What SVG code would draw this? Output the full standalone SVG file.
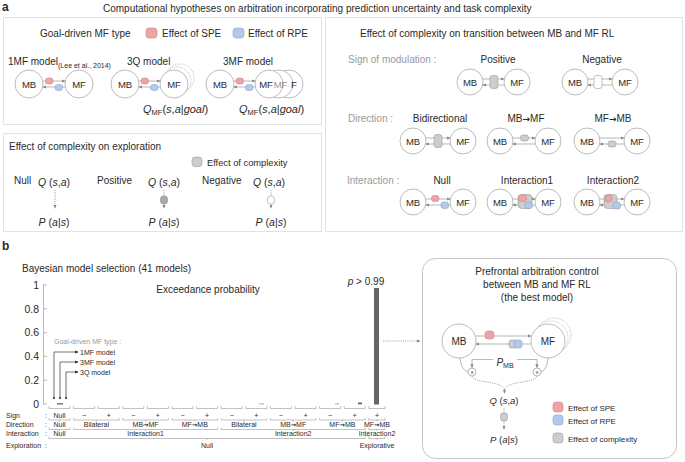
<svg xmlns="http://www.w3.org/2000/svg" width="685" height="462" viewBox="0 0 685 462">
<defs>
<style>
text{font-family:"Liberation Sans",Arial,sans-serif;fill:#2a2a2a}
.t{font-size:10px}
.g{fill:#9a9a9a}
.s7{font-size:7px}
.i{font-style:italic}
.ar2{font-family:"DejaVu Sans",sans-serif;font-weight:bold}
.c{fill:#fff;stroke:#aaa;stroke-width:0.8}
.cd{fill:none;stroke:#b5b5b5;stroke-width:0.7;stroke-dasharray:1.5 1}
.ar{stroke:#999;stroke-width:0.7;fill:none;marker-end:url(#ah)}
.ad{stroke:#888;stroke-width:0.7;fill:none;stroke-dasharray:1.2 1;marker-end:url(#ah)}
.ak{stroke:#333;stroke-width:0.7;fill:none;marker-end:url(#ak)}
.spe{fill:#eca4a7;stroke:#d08589;stroke-width:0.6}
.rpe{fill:#b4c8ea;stroke:#8ea6ce;stroke-width:0.6}
.cx{fill:#cdcdcd;stroke:#999;stroke-width:0.6}
.cw{fill:#fff;stroke:#999;stroke-width:0.6}
.pn{fill:none;stroke:#e2e2e2;stroke-width:1}
.br{fill:none;stroke:#999;stroke-width:0.6}
.n{font-size:9.5px;text-anchor:middle}
.m{text-anchor:middle}
</style>
<marker id="ah" viewBox="0 0 6 6" refX="5" refY="3" markerWidth="4" markerHeight="4" orient="auto" markerUnits="userSpaceOnUse"><path d="M0,0.5 L6,3 L0,5.5z" fill="#888"/></marker>
<marker id="ak" viewBox="0 0 6 6" refX="5" refY="3" markerWidth="4" markerHeight="4" orient="auto" markerUnits="userSpaceOnUse"><path d="M0,0.5 L6,3 L0,5.5z" fill="#333"/></marker>
</defs>
<rect width="685" height="462" fill="#fff"/>

<!-- headings -->
<text x="2" y="11" font-size="12" font-weight="bold">a</text>
<text x="103" y="12" class="t">Computational hypotheses on arbitration incorporating prediction uncertainty and task complexity</text>

<!-- panels -->
<rect class="pn" x="3.5" y="17.5" width="318" height="107"/>
<rect class="pn" x="3.5" y="133.5" width="318" height="98"/>
<rect class="pn" x="325.5" y="17.5" width="357" height="214"/>

<!-- panel a1 -->
<g id="legend-a1">
<text x="40" y="37" class="t">Goal-driven MF type</text>
<rect class="spe" x="146" y="28" width="11" height="10" rx="3"/>
<text x="162" y="37" class="t">Effect of SPE</text>
<rect class="rpe" x="233" y="28" width="11" height="10" rx="3"/>
<text x="248" y="37" class="t">Effect of RPE</text>
</g>

<g id="model-1MF">
<text x="8" y="65" class="t">1MF model<tspan font-size="7" dy="2.5">(Lee et al., 2014)</tspan></text>
<circle class="c" cx="29" cy="84" r="14"/><text class="n" x="29" y="87.5">MB</text>
<circle class="c" cx="79" cy="84" r="14"/><text class="n" x="79" y="87.5">MF</text>
<line class="ar" x1="43" y1="81" x2="65" y2="81"/>
<line class="ar" x1="65" y1="87" x2="43" y2="87"/>
<rect class="spe" x="45.5" y="78" width="7.5" height="6" rx="2.5"/>
<rect class="rpe" x="55" y="84.5" width="7.5" height="6" rx="2.5"/>
</g>

<g id="model-3Q">
<text x="127" y="65" class="t">3Q model</text>
<circle class="cd" cx="180" cy="78" r="14"/>
<circle class="cd" cx="177" cy="81" r="14"/>
<circle class="c" cx="125" cy="84" r="14"/><text class="n" x="125" y="87.5">MB</text>
<circle class="c" cx="174" cy="84" r="14"/><text class="n" x="174" y="87.5">MF</text>
<line class="ar" x1="139" y1="81" x2="160" y2="81"/>
<line class="ar" x1="160" y1="87" x2="139" y2="87"/>
<rect class="spe" x="141" y="78" width="7.5" height="6" rx="2.5"/>
<rect class="rpe" x="150.5" y="84.5" width="7.5" height="6" rx="2.5"/>
<text x="143" y="113" font-size="11"><tspan class="i">Q</tspan><tspan font-size="7.5" dy="2">MF</tspan><tspan dy="-2">(</tspan><tspan class="i">s</tspan>,<tspan class="i">a</tspan>|<tspan class="i">goal</tspan>)</text>
</g>

<g id="model-3MF">
<text x="223" y="65" class="t">3MF model</text>
<circle class="c" cx="220" cy="84" r="14"/><text class="n" x="220" y="87.5">MB</text>
<circle class="c" cx="289" cy="84" r="14"/>
<circle class="c" cx="279" cy="84" r="14"/>
<circle class="c" cx="269" cy="84" r="14"/>
<text class="n" x="266" y="87.5">MF</text>
<text class="n" x="280.5" y="87.5" fill-opacity="0.55">MF</text>
<text class="n" x="294" y="87.5">F</text>
<line class="ar" x1="234" y1="81" x2="255" y2="81"/>
<line class="ar" x1="255" y1="87" x2="234" y2="87"/>
<rect class="spe" x="236" y="78" width="7.5" height="6" rx="2.5"/>
<rect class="rpe" x="245.5" y="84.5" width="7.5" height="6" rx="2.5"/>
<text x="239" y="113" font-size="11"><tspan class="i">Q</tspan><tspan font-size="7.5" dy="2">MF</tspan><tspan dy="-2">(</tspan><tspan class="i">s</tspan>,<tspan class="i">a</tspan>|<tspan class="i">goal</tspan>)</text>
</g>

<!-- panel a2 -->
<g id="exploration">
<text x="9" y="150" class="t">Effect of complexity on exploration</text>
<rect class="cx" x="192" y="157" width="10" height="9.5" rx="3" fill="#ddd"/>
<text x="207" y="166" font-size="9.3">Effect of complexity</text>
<text x="14" y="184" class="t">Null</text>
<text x="54" y="186" font-size="10.5" class="m"><tspan class="i">Q</tspan> (<tspan class="i">s</tspan>,<tspan class="i">a</tspan>)</text>
<line class="ad" x1="55" y1="190" x2="55" y2="208"/>
<text x="54" y="226" font-size="10.5" class="m"><tspan class="i">P</tspan> (<tspan class="i">a</tspan>|<tspan class="i">s</tspan>)</text>
<text x="97" y="184" class="t">Positive</text>
<text x="164" y="186" font-size="10.5" class="m"><tspan class="i">Q</tspan> (<tspan class="i">s</tspan>,<tspan class="i">a</tspan>)</text>
<line class="ad" x1="164" y1="190" x2="164" y2="208"/>
<rect x="160.5" y="196" width="7" height="8" rx="3" fill="#aaa" stroke="#888" stroke-width="0.6"/>
<text x="164" y="226" font-size="10.5" class="m"><tspan class="i">P</tspan> (<tspan class="i">a</tspan>|<tspan class="i">s</tspan>)</text>
<text x="202" y="184" class="t">Negative</text>
<text x="269" y="186" font-size="10.5" class="m"><tspan class="i">Q</tspan> (<tspan class="i">s</tspan>,<tspan class="i">a</tspan>)</text>
<line class="ad" x1="271" y1="190" x2="271" y2="208"/>
<rect class="cw" x="267.5" y="196" width="7" height="8" rx="3"/>
<text x="271" y="226" font-size="10.5" class="m"><tspan class="i">P</tspan> (<tspan class="i">a</tspan>|<tspan class="i">s</tspan>)</text>
</g>

<!-- panel a3 -->
<g id="transition">
<text x="360" y="37" class="t">Effect of complexity on transition between MB and MF RL</text>
<text x="348" y="63" class="t g">Sign of modulation :</text>
<text x="348" y="122" class="t g">Direction :</text>
<text x="347" y="184" class="t g">Interaction :</text>
<text x="498" y="63" class="t m">Positive</text>
<text x="602" y="63" class="t m">Negative</text>
<text x="440" y="122" class="t m">Bidirectional</text>
<text x="526" y="122" class="t m">MB<tspan class="ar2" font-size="9">→</tspan>MF</text>
<text x="613" y="122" class="t m">MF<tspan class="ar2" font-size="9">→</tspan>MB</text>
<text x="442" y="184" class="t m">Null</text>
<text x="527" y="184" class="t m">Interaction1</text>
<text x="613" y="184" class="t m">Interaction2</text>
</g>

<g id="sign-positive">
<circle class="c" cx="470" cy="82" r="13"/><text class="n" x="470" y="85.5">MB</text>
<circle class="c" cx="517" cy="82" r="13"/><text class="n" x="517" y="85.5">MF</text>
<line class="ar" x1="483" y1="79" x2="504" y2="79"/>
<line class="ar" x1="504" y1="85" x2="483" y2="85"/>
<rect class="cx" x="490" y="75.5" width="8" height="13" rx="2.5"/>
</g>
<g id="sign-negative">
<circle class="c" cx="575" cy="82" r="13"/><text class="n" x="575" y="85.5">MB</text>
<circle class="c" cx="625" cy="82" r="13"/><text class="n" x="625" y="85.5">MF</text>
<line class="ar" x1="588" y1="79" x2="612" y2="79"/>
<line class="ar" x1="612" y1="85" x2="588" y2="85"/>
<rect class="cw" x="594" y="75.5" width="8" height="13" rx="2.5"/>
</g>
<g id="dir-bidirectional">
<circle class="c" cx="413" cy="141" r="13"/><text class="n" x="413" y="144.5">MB</text>
<circle class="c" cx="463" cy="141" r="13"/><text class="n" x="463" y="144.5">MF</text>
<line class="ar" x1="426" y1="138" x2="450" y2="138"/>
<line class="ar" x1="450" y1="144" x2="426" y2="144"/>
<rect class="cx" x="434" y="134.5" width="8" height="13" rx="2.5"/>
</g>
<g id="dir-mb-mf">
<circle class="c" cx="500" cy="141" r="13"/><text class="n" x="500" y="144.5">MB</text>
<circle class="c" cx="548" cy="141" r="13"/><text class="n" x="548" y="144.5">MF</text>
<line class="ar" x1="513" y1="138" x2="535" y2="138"/>
<line class="ar" x1="535" y1="144" x2="513" y2="144"/>
<rect class="cx" x="520.5" y="135" width="8" height="6" rx="2.5"/>
</g>
<g id="dir-mf-mb">
<circle class="c" cx="587" cy="141" r="13"/><text class="n" x="587" y="144.5">MB</text>
<circle class="c" cx="637" cy="141" r="13"/><text class="n" x="637" y="144.5">MF</text>
<line class="ar" x1="600" y1="138" x2="624" y2="138"/>
<line class="ar" x1="624" y1="144" x2="600" y2="144"/>
<rect class="cx" x="608" y="141" width="8" height="6" rx="2.5"/>
</g>
<g id="int-null">
<circle class="c" cx="413" cy="202" r="13"/><text class="n" x="413" y="205.5">MB</text>
<circle class="c" cx="463" cy="202" r="13"/><text class="n" x="463" y="205.5">MF</text>
<line class="ar" x1="426" y1="199" x2="450" y2="199"/>
<line class="ar" x1="450" y1="205" x2="426" y2="205"/>
<rect class="spe" x="431.5" y="195.5" width="7.5" height="6" rx="2.5"/>
<rect class="rpe" x="441" y="202" width="7.5" height="6.5" rx="2.5"/>
</g>
<g id="int-1">
<circle class="c" cx="500" cy="202" r="13"/><text class="n" x="500" y="205.5">MB</text>
<circle class="c" cx="548" cy="202" r="13"/><text class="n" x="548" y="205.5">MF</text>
<line class="ar" x1="513" y1="199" x2="535" y2="199"/>
<line class="ar" x1="535" y1="205" x2="513" y2="205"/>
<rect class="cx" x="518" y="194.5" width="14" height="14" rx="3.5"/>
<rect class="spe" x="518.5" y="195" width="8" height="6.5" rx="2.5"/>
<rect class="rpe" x="525" y="202" width="7.5" height="6.5" rx="2.5"/>
</g>
<g id="int-2">
<circle class="c" cx="587" cy="202" r="13"/><text class="n" x="587" y="205.5">MB</text>
<circle class="c" cx="637" cy="202" r="13"/><text class="n" x="637" y="205.5">MF</text>
<line class="ar" x1="600" y1="199" x2="624" y2="199"/>
<line class="ar" x1="624" y1="205" x2="600" y2="205"/>
<rect class="cx" x="604" y="194.5" width="13" height="14" rx="3.5"/>
<rect class="spe" x="605" y="195" width="7" height="7" rx="2.5"/>
<rect class="rpe" x="613" y="202" width="7.5" height="7" rx="2.5"/>
</g>

<!-- panel b -->
<text x="2" y="250" font-size="12" font-weight="bold">b</text>
<text x="22" y="272" class="t">Bayesian model selection (41 models)</text>

<g id="chart">
<line x1="43.5" y1="284" x2="43.5" y2="404.5" stroke="#aaa" stroke-width="0.8"/>
<g stroke="#aaa" stroke-width="0.8">
<line x1="43.5" y1="285" x2="47" y2="285"/>
<line x1="43.5" y1="308.8" x2="47" y2="308.8"/>
<line x1="43.5" y1="332.6" x2="47" y2="332.6"/>
<line x1="43.5" y1="356.4" x2="47" y2="356.4"/>
<line x1="43.5" y1="380.2" x2="47" y2="380.2"/>
<line x1="43.5" y1="404" x2="47" y2="404"/>
</g>
<g font-size="10.5" text-anchor="end">
<text x="39" y="288.8">1</text>
<text x="39" y="312.6">0.8</text>
<text x="39" y="336.4">0.6</text>
<text x="39" y="360.2">0.4</text>
<text x="39" y="384">0.2</text>
<text x="39" y="407.8">0</text>
</g>
<text x="208" y="293" class="t m">Exceedance probability</text>
<text x="54" y="344" class="s7 g">Goal-driven MF type :</text>
<path class="ak" d="M54,398 V352 H78"/>
<path class="ak" d="M60,398 V362 H78"/>
<path class="ak" d="M66,398 V372 H78"/>
<circle cx="54" cy="398" r="1.1" fill="#333"/>
<circle cx="60" cy="398" r="1.1" fill="#333"/>
<circle cx="66" cy="398" r="1.1" fill="#333"/>
<text x="80" y="354.5" class="s7">1MF model</text>
<text x="80" y="364.5" class="s7">3MF model</text>
<text x="80" y="374.5" class="s7">3Q model</text>
<g fill="#666">
<rect x="57" y="403.2" width="6" height="1.3"/>
<rect x="259" y="403.5" width="5" height="0.8" fill="#999"/>
<rect x="335" y="403.5" width="4" height="0.8" fill="#999"/>
<rect x="358" y="402.5" width="4" height="1.8"/>
<rect x="374" y="288" width="5" height="116.5"/>
</g>
<text x="366" y="285" font-size="10" class="m"><tspan class="i">p</tspan> &gt; 0.99</text>
</g>

<g id="table">
<g class="br">
<path d="M49,406 V408.5 H70 V406"/>
<path d="M73.6,406 V408.5 H94.6 V406"/>
<path d="M98.2,406 V408.5 H119.2 V406"/>
<path d="M122.8,406 V408.5 H143.8 V406"/>
<path d="M147.4,406 V408.5 H168.4 V406"/>
<path d="M172,406 V408.5 H193 V406"/>
<path d="M196.6,406 V408.5 H217.6 V406"/>
<path d="M221.2,406 V408.5 H242.2 V406"/>
<path d="M245.8,406 V408.5 H266.8 V406"/>
<path d="M270.4,406 V408.5 H291.4 V406"/>
<path d="M295,406 V408.5 H316 V406"/>
<path d="M319.6,406 V408.5 H340.6 V406"/>
<path d="M344.2,406 V408.5 H365.2 V406"/>
<path d="M368.8,406 V408.5 H385 V406"/>

<path d="M49,418 V420 H70 V418 M59.5,420 V421.5"/>
<path d="M73.6,418 V420 H119.2 V418 M96.4,420 V421.5"/>
<path d="M122.8,418 V420 H168.4 V418 M145.6,420 V421.5"/>
<path d="M172,418 V420 H217.6 V418 M194.8,420 V421.5"/>
<path d="M221.2,418 V420 H266.8 V418 M244,420 V421.5"/>
<path d="M270.4,418 V420 H316 V418 M293.2,420 V421.5"/>
<path d="M319.6,418 V420 H365.2 V418 M342.4,420 V421.5"/>
<path d="M368.8,418 V420 H385 V418 M377,420 V421.5"/>

<path d="M49,427.5 V429.5 H70 V427.5 M59.5,429.5 V431"/>
<path d="M73.6,427.5 V429.5 H217.6 V427.5 M145.6,429.5 V431"/>
<path d="M221.2,427.5 V429.5 H365.2 V427.5 M293.2,429.5 V431"/>
<path d="M368.8,427.5 V429.5 H385 V427.5 M377,429.5 V431"/>

<path d="M49,436.5 V438.5 H365.2 V436.5 M207,438.5 V440"/>
<path d="M368.8,436.5 V438.5 H385 V436.5 M377,438.5 V440"/>
</g>
<g class="s7 g">
<text x="6" y="417.5">Sign</text><text x="45" y="417.5">:</text>
<text x="6" y="426.5">Direction</text><text x="45" y="426.5">:</text>
<text x="6" y="435.5">Interaction</text><text x="45" y="435.5">:</text>
<text x="6" y="447.5">Exploration</text><text x="45" y="447.5">:</text>
</g>
<g class="s7 m">
<text x="59.5" y="417.5">Null</text>
<text x="84.1" y="417.5">−</text><text x="108.7" y="417.5">+</text>
<text x="133.3" y="417.5">−</text><text x="157.9" y="417.5">+</text>
<text x="182.5" y="417.5">−</text><text x="207.1" y="417.5">+</text>
<text x="231.7" y="417.5">−</text><text x="256.3" y="417.5">+</text>
<text x="280.9" y="417.5">−</text><text x="305.5" y="417.5">+</text>
<text x="330.1" y="417.5">−</text><text x="354.7" y="417.5">+</text>
<text x="377" y="417.5">+</text>
<text x="59.5" y="426.5">Null</text>
<text x="96.4" y="426.5">Bilateral</text>
<text x="145.6" y="426.5">MB<tspan class="ar2" font-size="6.5">→</tspan>MF</text>
<text x="194.8" y="426.5">MF<tspan class="ar2" font-size="6.5">→</tspan>MB</text>
<text x="244" y="426.5">Bilateral</text>
<text x="293.2" y="426.5">MB<tspan class="ar2" font-size="6.5">→</tspan>MF</text>
<text x="342.4" y="426.5">MF<tspan class="ar2" font-size="6.5">→</tspan>MB</text>
<text x="377" y="426.5">MF<tspan class="ar2" font-size="6.5">→</tspan>MB</text>
<text x="59.5" y="435.5">Null</text>
<text x="145.6" y="435.5">Interaction1</text>
<text x="293.2" y="435.5">Interaction2</text>
<text x="377" y="435.5">Interaction2</text>
<text x="207" y="447.5">Null</text>
<text x="377" y="447.5">Explorative</text>
</g>
</g>

<g id="connectors">
<line class="ad" x1="383" y1="341" x2="420" y2="341"/>
</g>

<g id="best-model">
<rect x="422.5" y="258.5" width="254" height="200" rx="13" fill="none" stroke="#c4c4c4" stroke-width="1"/>
<text x="537" y="275" class="t m">Prefrontal arbitration control</text>
<text x="537" y="288" class="t m">between MB and MF RL</text>
<text x="537" y="301" class="t m">(the best model)</text>
<circle class="cd" cx="554" cy="335" r="17"/>
<circle class="cd" cx="551" cy="338" r="17"/>
<circle class="c" cx="459" cy="341" r="17"/><text x="459" y="345" class="t m">MB</text>
<circle class="c" cx="548" cy="341" r="17"/><text x="548" y="345" class="t m">MF</text>
<line class="ar" x1="476" y1="336" x2="531" y2="336"/>
<line class="ar" x1="531" y1="344" x2="476" y2="344"/>
<rect class="spe" x="485" y="331" width="9" height="8" rx="3"/>
<rect class="cx" x="509" y="340" width="8" height="8" rx="2.5"/>
<rect class="rpe" x="514" y="340" width="8" height="8" rx="2.5"/>
<text x="505" y="366" font-size="10" class="m"><tspan class="i">P</tspan><tspan font-size="7" dy="2">MB</tspan></text>
<path class="ar" d="M493,359.5 H472 V367.5"/>
<path class="ar" d="M517,359.5 H537 V367.5"/>
<path d="M460,358 Q461,370 468,372" fill="none" stroke="#999" stroke-width="0.7"/>
<path d="M548,358 Q547,370 541,372" fill="none" stroke="#999" stroke-width="0.7"/>
<circle cx="472" cy="372" r="4" fill="#fff" stroke="#999" stroke-width="0.7"/>
<circle cx="537" cy="372" r="4" fill="#fff" stroke="#999" stroke-width="0.7"/>
<text x="472" y="374" font-size="5.5" class="m">x</text>
<text x="537" y="374" font-size="5.5" class="m">x</text>
<path d="M472,376 C474,384 502,380 504.5,390" fill="none" stroke="#888" stroke-width="0.7" stroke-dasharray="1.2 1"/>
<path d="M537,376 C535,384 507,380 504.5,390" fill="none" stroke="#888" stroke-width="0.7" stroke-dasharray="1.2 1"/>
<line class="ar" x1="504.5" y1="389" x2="504.5" y2="393"/>
<text x="504" y="404" font-size="9.5" class="m"><tspan class="i">Q</tspan> (<tspan class="i">s</tspan>,<tspan class="i">a</tspan>)</text>
<line class="ad" x1="504" y1="408" x2="504" y2="429"/>
<rect class="cx" x="500.5" y="413" width="7" height="8" rx="2.5"/>
<text x="504" y="443" font-size="9.5" class="m"><tspan class="i">P</tspan> (<tspan class="i">a</tspan>|<tspan class="i">s</tspan>)</text>
<rect class="spe" x="553" y="402" width="10" height="10" rx="3"/>
<text x="568" y="410.5" font-size="8">Effect of SPE</text>
<rect class="rpe" x="553" y="415" width="10" height="10" rx="3"/>
<text x="568" y="423.5" font-size="8">Effect of RPE</text>
<rect class="cx" x="553" y="433" width="10" height="10" rx="3" fill="#d6d6d6"/>
<text x="568" y="441.5" font-size="8">Effect of complexity</text>
</g>
</svg>
